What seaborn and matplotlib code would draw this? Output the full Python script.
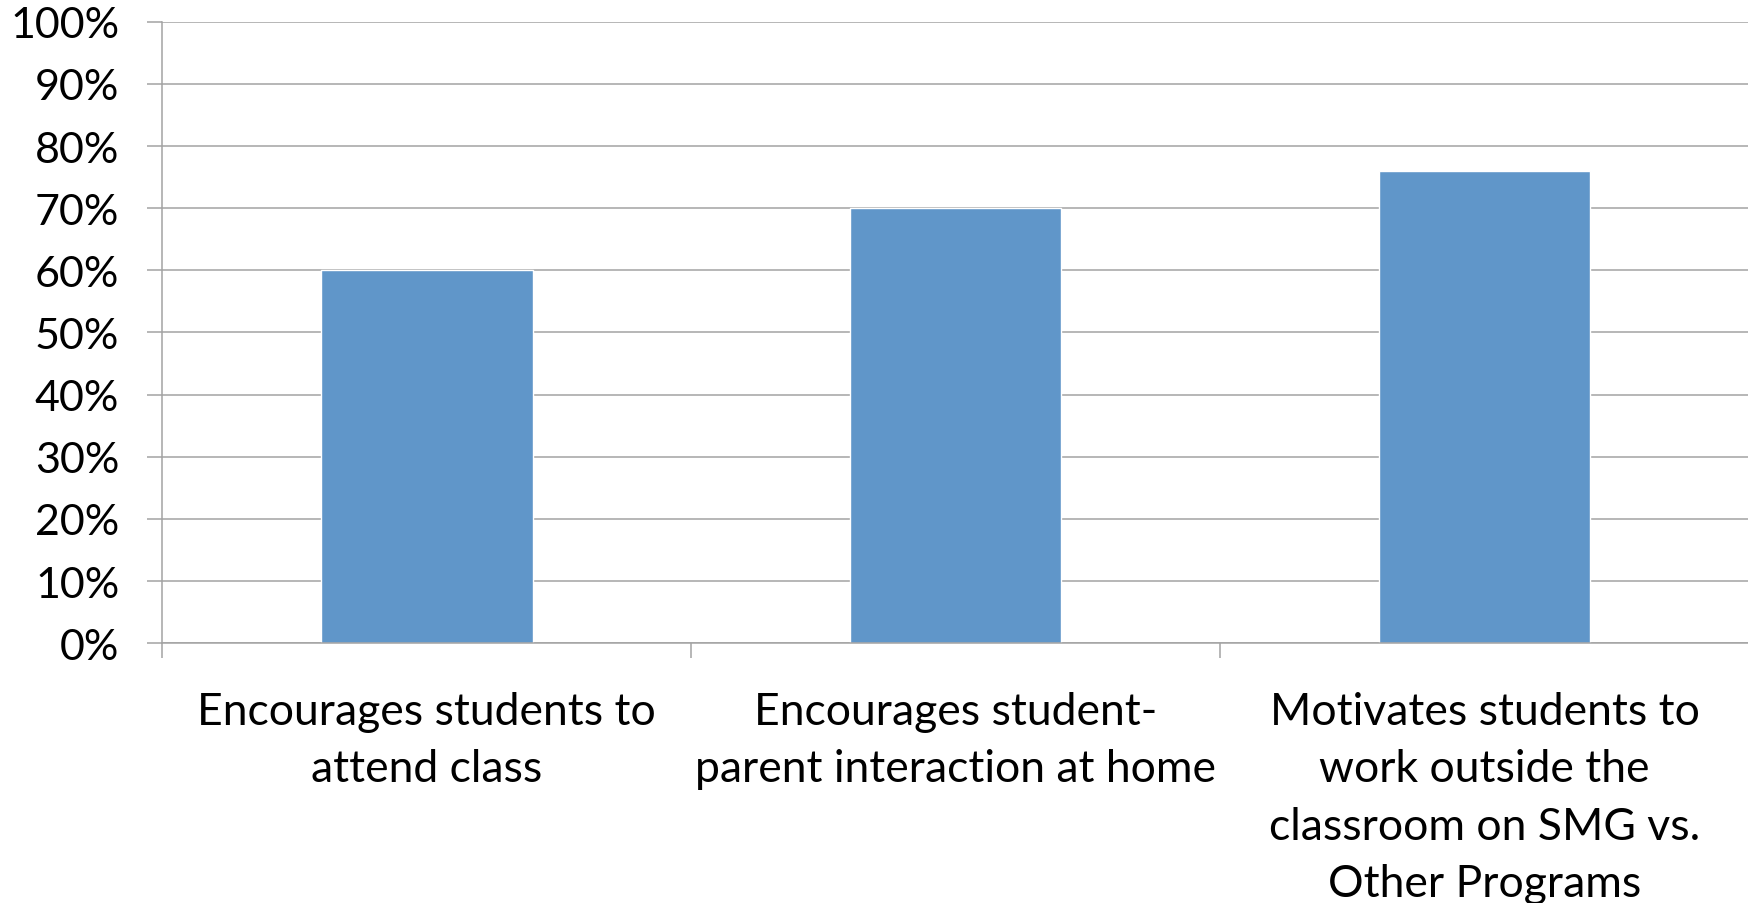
import matplotlib
matplotlib.use("Agg")
import matplotlib.pyplot as plt
from matplotlib.ticker import FixedLocator, FuncFormatter
import seaborn as sns

categories = [
    "Encourages students to\nattend class",
    "Encourages student-\nparent interaction at home",
    "Motivates students to\nwork outside the\nclassroom on SMG vs.\nOther Programs",
]
values = [0.60, 0.70, 0.76]
y_ticks = [i / 10 for i in range(11)]

bar_color = "#6096C9"
grid_color = "#A3A3A3"

sns.set_theme(style="white")
plt.rcParams["font.family"] = ["Lato", "DejaVu Sans"]

fig = plt.figure(figsize=(17.49, 9.04), dpi=100)
ax = fig.add_axes([0.0928, 0.2873, 0.9072, 0.6876])

sns.barplot(x=categories, y=values, color=bar_color, width=0.4,
            saturation=1, ax=ax, zorder=3)

ax.set_xlim(-0.5, len(categories) - 0.5)
ax.set_ylim(0, 1)
ax.yaxis.set_major_locator(FixedLocator(y_ticks))
ax.yaxis.set_major_formatter(FuncFormatter(lambda v, _: f"{v * 100:.0f}%"))
ax.grid(axis="y", color=grid_color, linewidth=1.1, zorder=0)
ax.grid(axis="x", visible=False)

for side in ("top", "right"):
    ax.spines[side].set_visible(False)
for side in ("left", "bottom"):
    ax.spines[side].set_color(grid_color)
    ax.spines[side].set_linewidth(1.1)
    ax.spines[side].set_zorder(4)

ax.tick_params(axis="y", which="major", direction="out", length=11,
               width=1.1, color=grid_color, labelsize=31, pad=20,
               labelcolor="black", left=True)
ax.tick_params(axis="x", which="major", length=0, labelsize=32, pad=34,
               labelcolor="black")
ax.set_xticks([-0.5 + i for i in range(len(categories) + 1)], minor=True)
ax.tick_params(axis="x", which="minor", direction="out", length=11,
               width=1.1, color=grid_color, bottom=True)
for lbl in ax.get_xticklabels():
    lbl.set_multialignment("center")
    lbl.set_linespacing(1.5)

ax.set_xlabel("")
ax.set_ylabel("")

fig.savefig("out.png", dpi=100)
